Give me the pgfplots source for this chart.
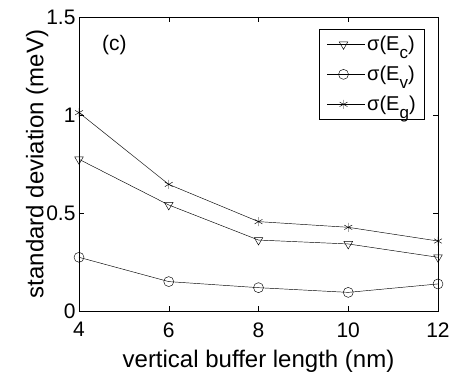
\documentclass[border=0pt]{standalone}
\usepackage{fontspec}
\setmainfont{Liberation Sans}
\usepackage{pgfplots}
\pgfplotsset{compat=1.18}
\newcommand{\sub}[1]{\raisebox{-0.4em}{\fontsize{17}{19}\selectfont #1}}
\begin{document}
\begin{tikzpicture}
\begin{axis}[
  scale only axis,
  width=359pt, height=294pt,
  xmin=4, xmax=12, ymin=0, ymax=1.5,
  xtick={4,6,8,10,12},
  ytick={0,0.5,1,1.5},
  yticklabels={0,0.5,1,1.5},
  tick align=inside,
  major tick length=5pt,
  tick style={black, line width=0.4pt},
  axis line style={line width=0.5pt},
  /pgf/number format/assume math mode=true,
  tick label style={font=\fontsize{21}{23}\selectfont},
  xticklabel style={yshift=-8pt},
  label style={font=\fontsize{24}{26}\selectfont},
  xlabel={vertical buffer length (nm)},
  ylabel={standard deviation (meV)},
  xlabel style={yshift=-6pt},
  ylabel style={yshift=-9pt},
  legend style={at={(0.9638,0.959)}, anchor=north east, font=\fontsize{20}{22}\selectfont,
    draw=black, line width=0.6pt, inner xsep=7pt, inner ysep=5pt, row sep=10pt,
    cells={anchor=west}},
  legend image code/.code={\draw[#1, mark repeat=2, mark phase=2] plot coordinates {(0pt,0pt) (16.5pt,0pt) (33pt,0pt)};
    \path (0pt,0pt) -- (38pt,0pt);},
  every axis plot/.append style={black, line width=0.45pt},
]
\addplot[mark=triangle, mark size=5pt, mark options={rotate=180, fill=white}] coordinates {
 (4,0.774) (6,0.541) (8,0.362) (10,0.342) (12,0.274)};
\addlegendentry{σ(E\sub{c})}
\addplot[mark=o, mark size=5pt, mark options={fill=white}] coordinates {
 (4,0.274) (6,0.150) (8,0.119) (10,0.095) (12,0.138)};
\addlegendentry{σ(E\sub{v})}
\addplot[mark=asterisk, mark size=4.5pt] coordinates {
 (4,1.012) (6,0.646) (8,0.456) (10,0.427) (12,0.357)};
\addlegendentry{σ(E\sub{g})}
\node[font=\fontsize{21}{23}\selectfont] at (axis cs:4.79,1.357) {(c)};
\end{axis}
\pgfresetboundingbox
\path (-79pt,-64pt) rectangle (372pt,311pt);
\end{tikzpicture}
\end{document}
